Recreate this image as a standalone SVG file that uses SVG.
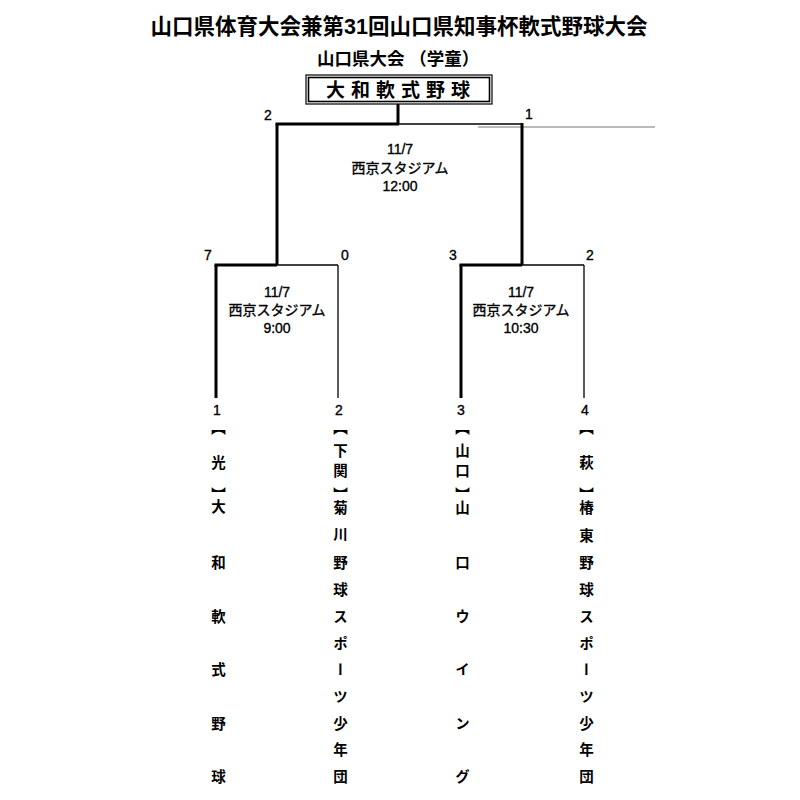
<svg xmlns="http://www.w3.org/2000/svg" width="800" height="800" viewBox="0 0 800 800">
<style>
.t{font-family:"Liberation Sans","Noto Sans CJK JP",sans-serif;fill:#000}
.title{font-size:21.5px;font-weight:bold}
.sub{font-size:17.5px;font-weight:bold}
.lbl{font-size:14px;text-anchor:middle;dominant-baseline:central;stroke:#000;stroke-width:0.35px}
.num{font-size:14px;text-anchor:middle;dominant-baseline:central;stroke:#000;stroke-width:0.35px}
.team{font-size:14.5px;font-weight:bold;writing-mode:vertical-rl;text-anchor:middle}
.thick{stroke:#000;stroke-width:3;fill:none}
.thin{stroke:#000;stroke-width:1.3;fill:none}
</style>
<rect width="800" height="800" fill="#fff"/>
<g id="header">
<text class="t title" x="399" y="27" text-anchor="middle" dominant-baseline="central">山口県体育大会兼第31回山口県知事杯軟式野球大会</text>
<text class="t sub" x="317" y="59" dominant-baseline="central">山口県大会 （学童）</text>
</g>
<g id="champion">
<rect x="306" y="75" width="186" height="29" fill="#fff" stroke="#000" stroke-width="1.2"/>
<rect x="308.5" y="77.5" width="181" height="24" fill="none" stroke="#000" stroke-width="1.6"/>
<text class="t" x="401" y="90" font-size="19" font-weight="bold" letter-spacing="6" text-anchor="middle" dominant-baseline="central">大和軟式野球</text>
</g>
<g id="connectors">
<line class="thick" x1="398" y1="104" x2="398" y2="124"/>
<line class="thick" x1="275.5" y1="124" x2="399" y2="124"/>
<line class="thin" x1="398" y1="124" x2="522" y2="124"/>
<line x1="478" y1="127" x2="655" y2="127" stroke="#777" stroke-width="1"/>
<line class="thick" x1="277" y1="124" x2="277" y2="265"/>
<line class="thick" x1="522" y1="123" x2="522" y2="265"/>
<line class="thick" x1="214.5" y1="265" x2="277" y2="265"/>
<line class="thin" x1="277" y1="265" x2="338" y2="265"/>
<line class="thick" x1="216" y1="265" x2="216" y2="398"/>
<line class="thin" x1="338" y1="265" x2="338" y2="398"/>
<line class="thick" x1="459.5" y1="265" x2="522" y2="265"/>
<line class="thin" x1="522" y1="265" x2="584" y2="265"/>
<line class="thick" x1="461" y1="265" x2="461" y2="398"/>
<line class="thin" x1="584" y1="265" x2="584" y2="398"/>
</g>
<g id="scores">
<text class="t num" x="268" y="115">2</text>
<text class="t num" x="529" y="114">1</text>
<text class="t num" x="208" y="255">7</text>
<text class="t num" x="345" y="255">0</text>
<text class="t num" x="453" y="255">3</text>
<text class="t num" x="590" y="255">2</text>
</g>
<g id="match-final">
<text class="t lbl" x="400" y="149">11/7</text>
<text class="t lbl" x="400" y="168">西京スタジアム</text>
<text class="t lbl" x="400" y="186">12:00</text>
</g>
<g id="match-semi1">
<text class="t lbl" x="277" y="292">11/7</text>
<text class="t lbl" x="277" y="310">西京スタジアム</text>
<text class="t lbl" x="277" y="328">9:00</text>
</g>
<g id="match-semi2">
<text class="t lbl" x="521" y="292">11/7</text>
<text class="t lbl" x="521" y="310">西京スタジアム</text>
<text class="t lbl" x="521" y="328">10:30</text>
</g>
<g id="team1">
<text class="t num" x="217" y="410">1</text>
<text class="t team"><tspan x="217" y="427">【</tspan><tspan x="217" y="462">光</tspan><tspan x="217" y="494">】</tspan><tspan x="217" y="506">大</tspan><tspan x="217" y="562">和</tspan><tspan x="217" y="616">軟</tspan><tspan x="217" y="669">式</tspan><tspan x="217" y="723">野</tspan><tspan x="217" y="776">球</tspan></text>
</g>
<g id="team2">
<text class="t num" x="339" y="410">2</text>
<text class="t team"><tspan x="339" y="427">【</tspan><tspan x="339" y="450">下</tspan><tspan x="339" y="470">関</tspan><tspan x="339" y="494">】</tspan><tspan x="339" y="507">菊</tspan><tspan x="339" y="534">川</tspan><tspan x="339" y="562">野</tspan><tspan x="339" y="589">球</tspan><tspan x="339" y="616">ス</tspan><tspan x="339" y="643">ポ</tspan><tspan x="339" y="669">ー</tspan><tspan x="339" y="696">ツ</tspan><tspan x="339" y="723">少</tspan><tspan x="339" y="749">年</tspan><tspan x="339" y="776">団</tspan></text>
</g>
<g id="team3">
<text class="t num" x="461" y="410">3</text>
<text class="t team"><tspan x="461" y="427">【</tspan><tspan x="461" y="450">山</tspan><tspan x="461" y="470">口</tspan><tspan x="461" y="494">】</tspan><tspan x="461" y="507">山</tspan><tspan x="461" y="562">口</tspan><tspan x="461" y="616">ウ</tspan><tspan x="461" y="669">イ</tspan><tspan x="461" y="723">ン</tspan><tspan x="461" y="776">グ</tspan></text>
</g>
<g id="team4">
<text class="t num" x="585" y="410">4</text>
<text class="t team"><tspan x="585" y="427">【</tspan><tspan x="585" y="462">萩</tspan><tspan x="585" y="494">】</tspan><tspan x="585" y="507">椿</tspan><tspan x="585" y="535">東</tspan><tspan x="585" y="562">野</tspan><tspan x="585" y="589">球</tspan><tspan x="585" y="616">ス</tspan><tspan x="585" y="643">ポ</tspan><tspan x="585" y="669">ー</tspan><tspan x="585" y="696">ツ</tspan><tspan x="585" y="723">少</tspan><tspan x="585" y="749">年</tspan><tspan x="585" y="776">団</tspan></text>
</g>
</svg>
